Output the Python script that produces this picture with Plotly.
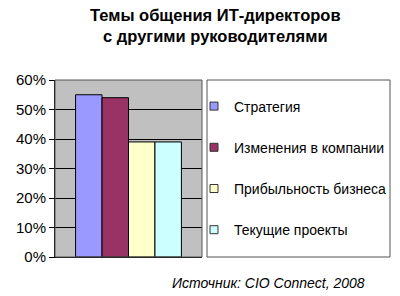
import plotly.graph_objects as go

series = ["Стратегия", "Изменения в компании", "Прибыльность бизнеса", "Текущие проекты"]
values = [0.55, 0.54, 0.39, 0.39]
colors = ["#9999FF", "#993366", "#FFFFCC", "#CCFFFF"]
title_lines = ["Темы общения ИТ-директоров", "с другими руководителями"]
source = "Источник: CIO Connect, 2008"
yticks = [0, 0.1, 0.2, 0.3, 0.4, 0.5, 0.6]

W, H = 400, 296
l, r, t, b = 55, 198, 80, 39
pw, ph = W - l - r, H - t - b
def px(x): return (x - l) / pw
def py(y): return (H - b - y) / ph

FONT = "Liberation Sans, Arial, sans-serif"

fig = go.Figure()
for i, (name, v, c) in enumerate(zip(series, values, colors)):
    fig.add_trace(go.Bar(x=[""], y=[v], name=name, showlegend=False,
                         marker=dict(color=c, line=dict(color="#000000", width=1))))
# legend entries (small square swatches like the original)
for i, (name, c) in enumerate(zip(series, colors)):
    fig.add_trace(go.Scatter(x=[None], y=[None], name=name, mode="markers", legendgroup=f"g{i}",
                             marker=dict(symbol="square", size=8, color=c, line=dict(color="#333333", width=1))))

fig.update_layout(
    width=W, height=H,
    margin=dict(l=l, r=r, t=t, b=b, autoexpand=False),
    paper_bgcolor="white", plot_bgcolor="#C0C0C0",
    barmode="group", bargap=0.28, bargroupgap=0,
    font=dict(family=FONT, size=14, color="black"),
    showlegend=True,
    legend=dict(xref="container", yref="container", x=194 / W, y=1 - 168 / H, xanchor="left", yanchor="middle",
                traceorder="grouped", tracegroupgap=20, bgcolor="rgba(0,0,0,0)", borderwidth=0,
                maxheight=1.0,
                font=dict(family=FONT, size=14, color="black"), itemwidth=30),
    annotations=[
        dict(text="<b>" + title_lines[0] + "<br>" + title_lines[1] + "</b>", xref="paper", yref="paper",
             x=px(215), y=py(25), showarrow=False, font=dict(family=FONT, size=16.5),
             xanchor="center", yanchor="middle"),
        dict(text="<i>" + source + "</i>", xref="paper", yref="paper", x=px(268), y=py(283), showarrow=False,
             font=dict(family=FONT, size=14), xanchor="center", yanchor="middle"),
    ],
)

fig.update_yaxes(range=[0, 0.6], tickvals=yticks, tickformat=".0%", showgrid=True, gridcolor="black", gridwidth=1,
                 showline=True, linecolor="black", linewidth=1, ticks="outside", ticklen=5, tickcolor="black",
                 zeroline=False, tickfont=dict(size=15))
fig.update_xaxes(showticklabels=False, showline=True, linecolor="black", linewidth=1, ticks="")

fig.add_shape(type="rect", xref="paper", yref="paper", x0=0, x1=1, y0=0, y1=1, line=dict(color="#555555", width=1))
fig.add_shape(type="rect", xref="paper", yref="paper", x0=px(207), x1=px(390), y0=py(257), y1=py(80),
              line=dict(color="#555555", width=1), fillcolor="rgba(0,0,0,0)")

fig.write_html("out.html")
